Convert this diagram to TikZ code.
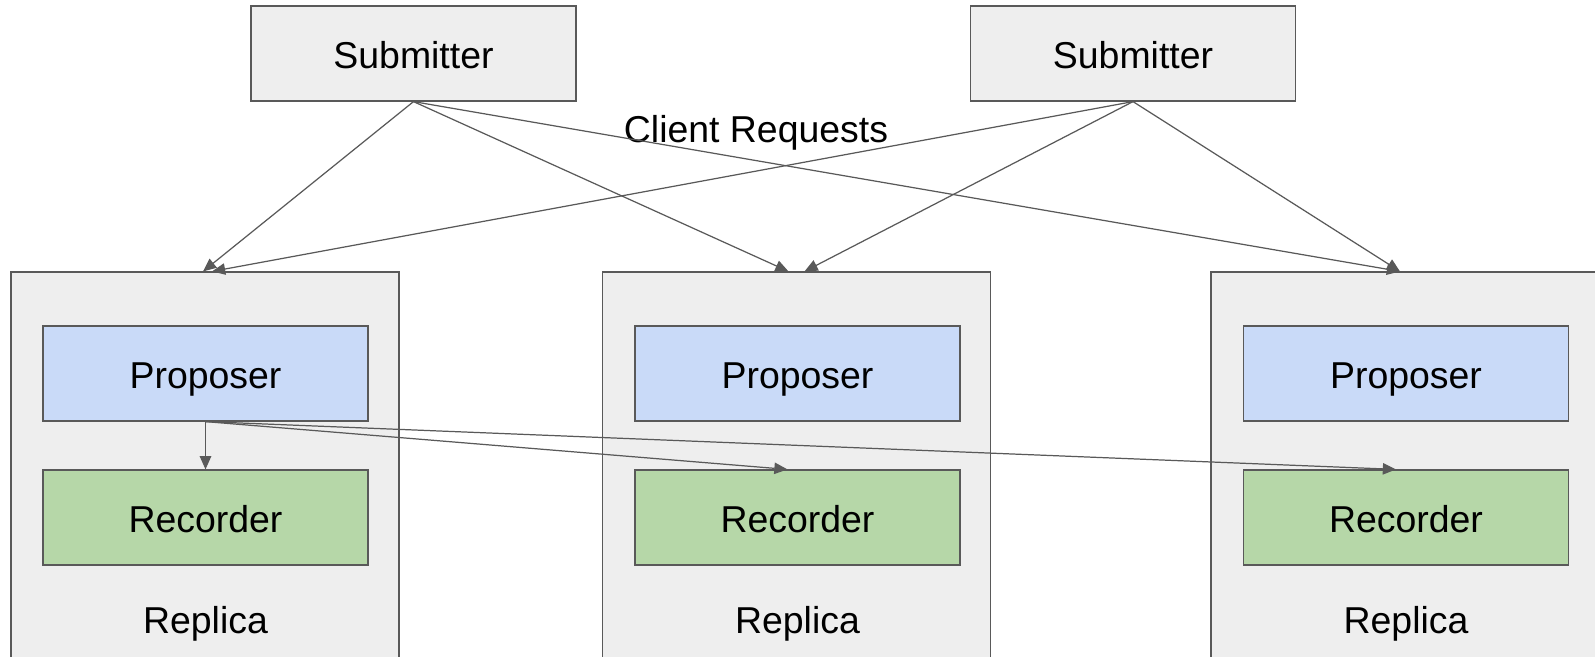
\documentclass[tikz,border=0pt]{standalone}
\usepackage{fontspec}
\setmainfont{Liberation Sans}
\usetikzlibrary{arrows.meta}
\definecolor{boxgray}{HTML}{EEEEEE}
\definecolor{linegray}{HTML}{595959}
\definecolor{propblue}{HTML}{C9DAF8}
\definecolor{recgreen}{HTML}{B6D7A8}

\begin{document}
\begin{tikzpicture}
    	[x=0.02cm, y=-0.02cm,
    	 every node/.style={font=\fontsize{21.3}{25}\selectfont},
    	 box/.style={rectangle, draw=linegray, line width=0.7pt, fill=boxgray,
    	             minimum width=6.5cm, minimum height=1.9cm, inner sep=0pt,
    	             text height=17.5pt, text depth=0pt},
    	 replica/.style={box, minimum width=7.76cm, minimum height=8.56cm},
    	 proposer/.style={box, fill=propblue},
    	 recorder/.style={box, fill=recgreen},
    	 arr/.style={draw=linegray, line width=0.7pt,
    	             -{Triangle[length=7.5pt, width=6.5pt]}}]
    	\useasboundingbox (0,0) rectangle (1595,656);
    	\clip (0,0) rectangle (1595,656);

    	\node (sub1) at (413.5,53.5) [box] {Submitter};
    	\node (sub2) at (1133,53.5) [box] {Submitter};
    	\node (req) at (756,133) {Client Requests};

    	\node (rep1) at (205,486) [replica] {};
    	\node (rep2) at (796.5,486) [replica] {};
    	\node (rep3) at (1405,486) [replica] {};

    	\node (prop1) at (205.5,373.5) [proposer] {Proposer};
    	\node (prop2) at (797.5,373.5) [proposer] {Proposer};
    	\node (prop3) at (1406,373.5) [proposer] {Proposer};

    	\node (rec1) at (205.5,517.5) [recorder] {Recorder};
    	\node (rec2) at (797.5,517.5) [recorder] {Recorder};
    	\node (rec3) at (1406,517.5) [recorder] {Recorder};

    	\node (lab1) at (205.5,624) {Replica};
    	\node (lab2) at (797.5,624) {Replica};
    	\node (lab3) at (1406,624) {Replica};

    	\draw [arr] (sub1.south) -- ([xshift=-0.04cm]rep1.north);
    	\draw [arr] (sub1.south) -- ([xshift=-0.16cm]rep2.north);
    	\draw [arr] (sub1.south) -- ([xshift=-0.1cm]rep3.north);

    	\draw [arr] (sub2.south) -- ([xshift=0.14cm]rep1.north);
    	\draw [arr] (sub2.south) -- ([xshift=0.16cm]rep2.north);
    	\draw [arr] (sub2.south) -- ([xshift=-0.1cm]rep3.north);

    	\draw [arr] (prop1.south) -- (rec1.north);
    	\draw [arr] (prop1.south) -- ([xshift=-0.2cm]rec2.north);
    	\draw [arr] (prop1.south) -- ([xshift=-0.2cm]rec3.north);
\end{tikzpicture}
\end{document}
